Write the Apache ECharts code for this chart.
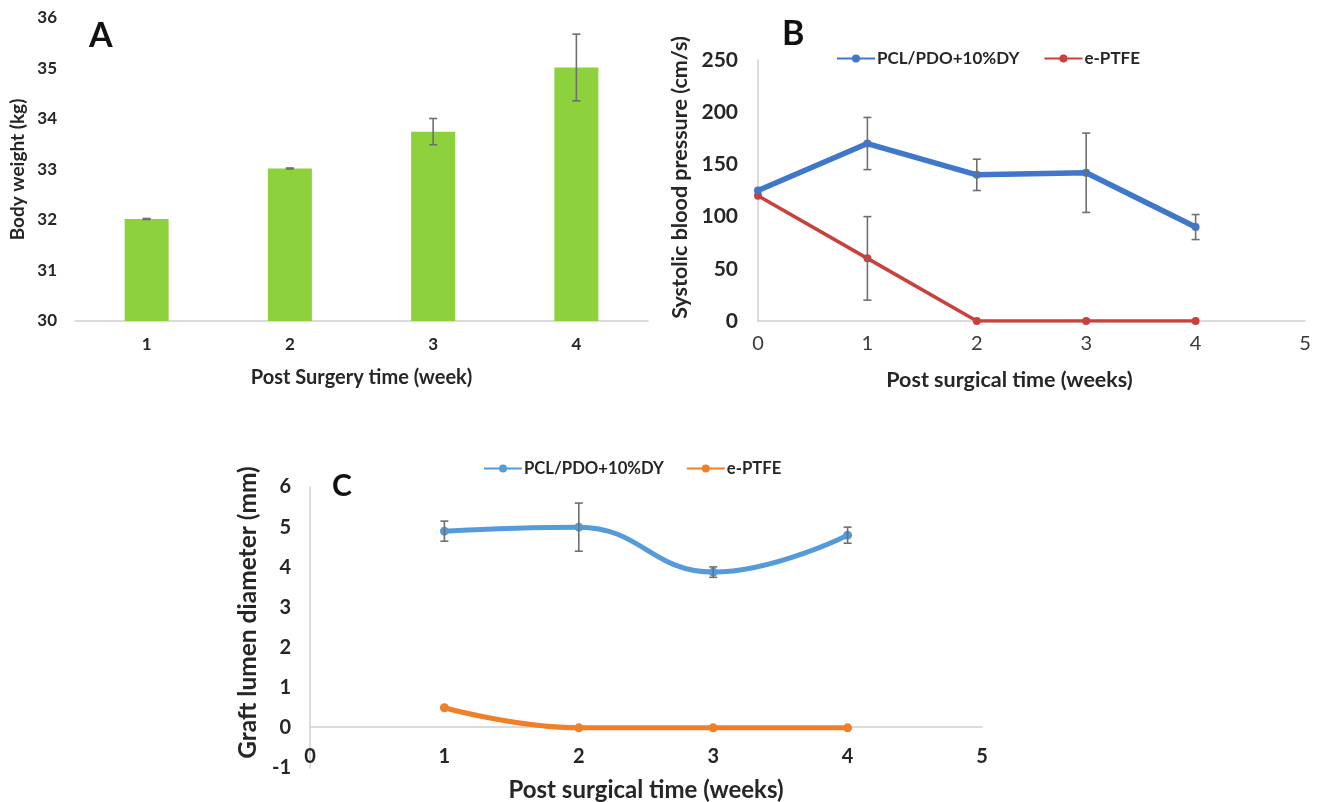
<!DOCTYPE html>
<html><head><meta charset="utf-8">
<script src="https://cdn.jsdelivr.net/npm/echarts@6/dist/echarts.min.js"></script>
<style>html,body{margin:0;padding:0;background:#fff}#c{width:1318px;height:802px}</style>
</head><body><div id="c"></div>
<script>
// Panel A
const weeksA = ['1', '2', '3', '4'];
const bodyWeight = [32.02, 33.02, 33.75, 35.02];
const bodyWeightErr = [0.01, 0.01, 0.26, 0.66];
// Panel B
const weeksB = [0, 1, 2, 3, 4];
const sbpPCL = [125, 170, 140, 142, 90];
const sbpPCLErr = [0, 25, 15, 38, 12];
const sbpPTFE = [120, 60, 0, 0, 0];
const sbpPTFEErr = [0, 40, 0, 0, 0];
// Panel C
const weeksC = [1, 2, 3, 4];
const lumenPCL = [4.9, 5.0, 3.88, 4.8];
const lumenPCLErr = [0.25, 0.6, 0.13, 0.2];
const lumenPTFE = [0.5, 0, 0, 0];
const seriesNames = ['PCL/PDO+10%DY', 'e-PTFE'];

const FONT = 'Lato';
const TXT = '#262626';
const AXIS = '#d0d0d0';
const ERR = '#6f6f6f';

function errData(xs, ys, es) {
  const out = [];
  xs.forEach((x, i) => { if (es[i] > 0) out.push([x, ys[i] - es[i], ys[i] + es[i]]); });
  return out;
}
function errSeries(xi, yi, data, cap) {
  return {
    type: 'custom', xAxisIndex: xi, yAxisIndex: yi, data: data, z: 5, silent: true,
    encode: { x: 0, y: [1, 2] },
    renderItem: function (params, api) {
      const x = api.value(0);
      const lo = api.coord([x, api.value(1)]);
      const hi = api.coord([x, api.value(2)]);
      const st = { stroke: ERR, lineWidth: 1.6 };
      return { type: 'group', children: [
        { type: 'line', shape: { x1: lo[0], y1: lo[1], x2: hi[0], y2: hi[1] }, style: st },
        { type: 'line', shape: { x1: lo[0] - cap, y1: lo[1], x2: lo[0] + cap, y2: lo[1] }, style: st },
        { type: 'line', shape: { x1: hi[0] - cap, y1: hi[1], x2: hi[0] + cap, y2: hi[1] }, style: st }
      ] };
    }
  };
}
const zip = (xs, ys) => xs.map((x, i) => [x, ys[i]]);
const lab = (size) => ({ color: TXT, fontFamily: FONT, fontWeight: 'bold', fontSize: size });

const chart = echarts.init(document.getElementById('c'), null, { renderer: 'canvas' });
chart.setOption({
  backgroundColor: '#fff',
  animation: false,
  title: [
    { text: 'A', left: 84, top: 14, textStyle: { fontFamily: FONT, fontWeight: 'bold', fontSize: 34, color: '#111' } },
    { text: 'B', left: 777, top: 12, textStyle: { fontFamily: FONT, fontWeight: 'bold', fontSize: 34, color: '#111' } },
    { text: 'C', left: 327, top: 466, textStyle: { fontFamily: FONT, fontWeight: 'bold', fontSize: 30, color: '#111' } }
  ],
  legend: [
    { data: [seriesNames[0], seriesNames[1]], left: 831, top: 45, itemWidth: 38, itemHeight: 10, itemGap: 24,
      textStyle: Object.assign(lab(17), { padding: [0, 0, 0, -3] }), selectedMode: false },
    { data: ['PCL/PDO+10%DY ', 'e-PTFE '], left: 478, top: 455, itemWidth: 38, itemHeight: 10, itemGap: 22,
      textStyle: Object.assign(lab(16.7), { padding: [0, 0, 0, -3] }), selectedMode: false, formatter: n => n.trim() }
  ],
  grid: [
    { left: 75, top: 18, width: 573, height: 303, outerBoundsMode: 'none', containLabel: false },
    { left: 758, top: 60, width: 547, height: 261, outerBoundsMode: 'none', containLabel: false },
    { left: 310, top: 487, width: 672, height: 281, outerBoundsMode: 'none', containLabel: false }
  ],
  xAxis: [
    { gridIndex: 0, type: 'category', data: weeksA, axisLine: { lineStyle: { color: AXIS, width: 1.5 } }, axisTick: { show: false },
      axisLabel: Object.assign(lab(17), { margin: 15 }), name: 'Post Surgery time (week)', nameLocation: 'middle', nameGap: 47,
      nameTextStyle: lab(20) },
    { gridIndex: 1, type: 'value', min: 0, max: 5, interval: 1, splitLine: { show: false },
      axisLine: { lineStyle: { color: AXIS, width: 1.5 } }, axisTick: { show: false },
      axisLabel: Object.assign(lab(20), { margin: 13, color: '#3a3a3a', fontWeight: 'normal' }),
      name: 'Post surgical time (weeks)', nameLocation: 'middle', nameGap: 48,
      nameTextStyle: Object.assign(lab(21.5), { padding: [0, 44, 0, 0] }) },
    { gridIndex: 2, type: 'value', min: 0, max: 5, interval: 1, splitLine: { show: false }, offset: -41,
      axisLine: { onZero: false, lineStyle: { color: AXIS, width: 1.5 } }, axisTick: { show: false },
      axisLabel: Object.assign(lab(20), { margin: 20 }),
      name: 'Post surgical time (weeks)', nameLocation: 'middle', nameGap: 51, nameTextStyle: lab(24) }
  ],
  yAxis: [
    { gridIndex: 0, type: 'value', min: 30, max: 36, interval: 1, splitLine: { show: false }, axisLine: { show: false },
      axisTick: { show: false }, axisLabel: Object.assign(lab(17), { margin: 18 }),
      name: 'Body weight (kg)', nameLocation: 'middle', nameGap: 48, nameRotate: 90, nameTextStyle: lab(19) },
    { gridIndex: 1, type: 'value', min: 0, max: 250, interval: 50, splitLine: { show: false },
      axisLine: { show: true, lineStyle: { color: AXIS, width: 1.5 } }, axisTick: { show: false },
      axisLabel: Object.assign(lab(21), { margin: 20 }),
      name: 'Systolic blood pressure (cm/s)', nameLocation: 'middle', nameGap: 67, nameRotate: 90,
      nameTextStyle: Object.assign(lab(21.5), { padding: [0, 0, 0, 26] }) },
    { gridIndex: 2, type: 'value', min: -1, max: 6, interval: 1, splitLine: { show: false },
      axisLine: { show: true, onZero: false, lineStyle: { color: AXIS, width: 1.5 } }, axisTick: { show: false },
      axisLabel: Object.assign(lab(20), { margin: 19 }),
      name: 'Graft lumen diameter (mm)', nameLocation: 'middle', nameGap: 48, nameRotate: 90,
      nameTextStyle: Object.assign(lab(24.5), { padding: [0, 0, 0, 30] }) }
  ],
  series: [
    { type: 'bar', xAxisIndex: 0, yAxisIndex: 0, data: bodyWeight, barWidth: 44, itemStyle: { color: '#8DD13D' } },
    errSeries(0, 0, errData([0, 1, 2, 3], bodyWeight, bodyWeightErr), 4),

    { name: seriesNames[0], type: 'line', xAxisIndex: 1, yAxisIndex: 1, data: zip(weeksB, sbpPCL),
      symbol: 'circle', symbolSize: 8, lineStyle: { width: 5.5, color: '#3F78CB' }, itemStyle: { color: '#3F78CB' }, z: 3 },
    { name: seriesNames[1], type: 'line', xAxisIndex: 1, yAxisIndex: 1, data: zip(weeksB, sbpPTFE),
      symbol: 'circle', symbolSize: 8, lineStyle: { width: 3.5, color: '#C9403C' }, itemStyle: { color: '#C9403C' }, z: 2 },
    errSeries(1, 1, errData(weeksB, sbpPCL, sbpPCLErr), 4),
    errSeries(1, 1, errData(weeksB, sbpPTFE, sbpPTFEErr), 4),

    { name: 'PCL/PDO+10%DY ', type: 'line', smooth: 0.45, xAxisIndex: 2, yAxisIndex: 2, data: zip(weeksC, lumenPCL),
      symbol: 'circle', symbolSize: 9, lineStyle: { width: 5, color: '#559AD9' }, itemStyle: { color: '#559AD9' }, z: 3 },
    { name: 'e-PTFE ', type: 'line', smooth: 0.45, xAxisIndex: 2, yAxisIndex: 2, data: zip(weeksC, lumenPTFE),
      symbol: 'circle', symbolSize: 9, lineStyle: { width: 5, color: '#F07F28' }, itemStyle: { color: '#F07F28' }, z: 3 },
    errSeries(2, 2, errData(weeksC, lumenPCL, lumenPCLErr), 4)
  ]
});
</script></body></html>
